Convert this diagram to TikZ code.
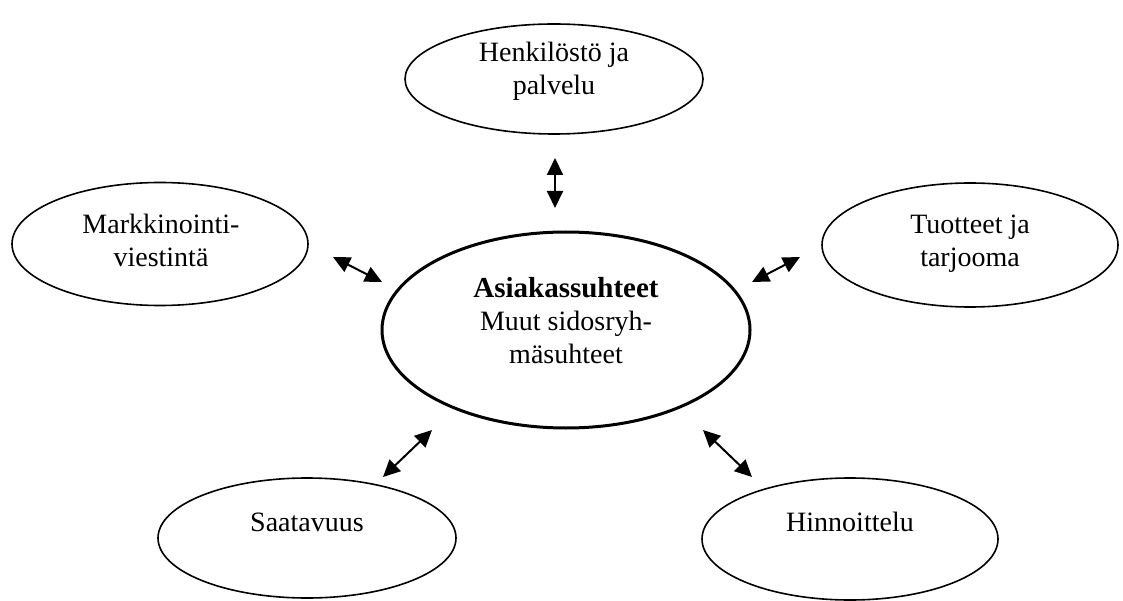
\documentclass[tikz,border=0pt]{standalone}
\usepackage{fontspec}
\setmainfont{Liberation Serif}
\usetikzlibrary{shapes.geometric,arrows.meta}
\begin{document}
\begin{tikzpicture}[x=1pt,y=-1pt,
  bubble/.style={ellipse,draw,line width=1.6pt,inner sep=0pt},
  hub/.style={ellipse,draw,line width=3pt,inner sep=0pt},
  lbl/.style={align=center,anchor=base,inner sep=0pt,font=\fontsize{28}{33}\selectfont},
  link/.style={{Triangle[length=17pt,width=16pt]}-{Triangle[length=17pt,width=16pt]},line width=2pt}]
\useasboundingbox (0,0) rectangle (1123,601);

% outlines
\node[hub,    minimum width=368pt, minimum height=196pt] (hubE)   at (566,330) {};
\node[bubble, minimum width=298pt, minimum height=110pt] (staffE) at (554,79)  {};
\node[bubble, minimum width=296pt, minimum height=123pt] (markE)  at (160,244) {};
\node[bubble, minimum width=296pt, minimum height=124pt] (prodE)  at (970,245) {};
\node[bubble, minimum width=298pt, minimum height=120pt] (availE) at (307,538) {};
\node[bubble, minimum width=296pt, minimum height=122pt] (priceE) at (850,539) {};

% labels (base anchor = baseline of the last line)
\node[lbl] (hubT)   at (566,363) {{\fontsize{29}{33}\selectfont\bfseries Asiakassuhteet}\\Muut sidosryh-\\mäsuhteet};
\node[lbl] (staffT) at (554,95)  {Henkilöstö ja\\palvelu};
\node[lbl] (markT)  at (161,267) {Markkinointi-\\viestintä};
\node[lbl] (prodT)  at (970,267) {Tuotteet ja\\tarjooma};
\node[lbl] (availT) at (307,531) {Saatavuus};
\node[lbl] (priceT) at (850,531) {Hinnoittelu};

% double-headed arrows between the hub and the surrounding topics
\coordinate (t1)  at (555,158); \coordinate (t2)  at (555,208);
\coordinate (l1)  at (333,257); \coordinate (l2)  at (382,282);
\coordinate (r1)  at (752,282); \coordinate (r2)  at (800,257);
\coordinate (bl1) at (383,477); \coordinate (bl2) at (432,430);
\coordinate (br1) at (703,430); \coordinate (br2) at (752,477);
\draw[link] (t1) -- (t2);
\draw[link] (l1) -- (l2);
\draw[link] (r1) -- (r2);
\draw[link] (bl1) -- (bl2);
\draw[link] (br1) -- (br2);
\end{tikzpicture}
\end{document}
